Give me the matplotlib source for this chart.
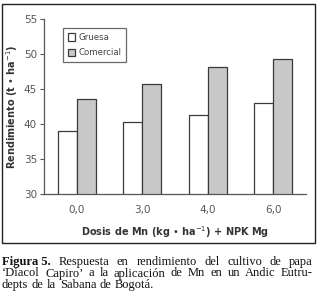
import matplotlib.pyplot as plt
import numpy as np
from matplotlib.patches import Rectangle

# data
dosis = ['0,0', '3,0', '4,0', '6,0']
gruesa = [39.0, 40.3, 41.3, 43.0]
comercial = [43.6, 45.8, 48.2, 49.3]

W, H = 325, 303
fig = plt.figure(figsize=(W / 100, H / 100), dpi=100)
fig.patch.set_facecolor('white')

# frame around the chart
fig.add_artist(Rectangle((2 / W, 1 - 243 / H), 313 / W, 239 / H, transform=fig.transFigure,
                         fill=False, edgecolor='#222222', linewidth=1.0))

ax = fig.add_axes([44 / W, 1 - 194.3 / H, 262 / W, 175 / H])
x = np.arange(len(dosis))
bw = 0.29
edge = '#3a3a3a'
ax.bar(x - bw / 2, gruesa, bw, color='white', edgecolor=edge, linewidth=0.9, label='Gruesa')
ax.bar(x + bw / 2, comercial, bw, color='#c8c8c8', edgecolor=edge, linewidth=0.9, label='Comercial')

ax.set_xlim(-0.5, 3.5)
ax.set_ylim(30, 55)
ax.set_yticks([30, 35, 40, 45, 50, 55])
ax.set_xticks(x)
ax.set_xticklabels(dosis)
for s in ['top', 'right']:
    ax.spines[s].set_visible(False)
for s in ['left', 'bottom']:
    ax.spines[s].set_color('#555555')
    ax.spines[s].set_linewidth(0.9)
ax.tick_params(axis='y', direction='out', length=3, width=0.8, color='#555555',
               labelsize=7.5, labelcolor='#555555', pad=2)
ax.tick_params(axis='x', length=0, labelsize=7.5, labelcolor='#555555', pad=8)

ax.set_ylabel('Rendimiento (t • ha$^{-1}$)', fontsize=7, fontweight='bold', color='#333333', labelpad=3)
ax.set_xlabel('Dosis de Mn (kg • ha$^{-1}$) + NPK Mg', fontsize=7, fontweight='bold', color='#333333', labelpad=6)

leg = ax.legend(loc='upper left', bbox_to_anchor=(19 / 262, 1 - 9 / 175), fontsize=6.2,
                frameon=True, fancybox=False, handlelength=0.9, handleheight=0.9,
                handletextpad=0.3, borderpad=0.55, labelspacing=0.7, borderaxespad=0)
leg.get_frame().set_edgecolor('#444444')
leg.get_frame().set_linewidth(0.9)
for t in leg.get_texts():
    t.set_color('#444444')

# caption, justified word by word
renderer = fig.canvas.get_renderer()
cap_font = dict(family='Liberation Serif', fontsize=9, color='#111111')
lines = [
    ([('Figura 5.', 'bold')] + [(w, 'normal') for w in 'Respuesta en rendimiento del cultivo de papa'.split()], True),
    ([(w, 'normal') for w in '‘Diacol Capiro’ a la aplicación de Mn en un Andic Eutru-'.split()], True),
    ([(w, 'normal') for w in 'depts de la Sabana de Bogotá.'.split()], False),
]
left, right = 2, 313
ys = [265, 276.5, 288]
for (words, justify), yp in zip(lines, ys):
    texts = [fig.text(0, 1 - yp / H, w, fontweight=fw, va='baseline', ha='left', **cap_font) for w, fw in words]
    widths = [t.get_window_extent(renderer).width for t in texts]
    if justify:
        gap = (right - left - sum(widths)) / (len(texts) - 1)
    else:
        gap = 3.5
    xp = left
    for t, w in zip(texts, widths):
        t.set_x(xp / W)
        xp += w + gap

fig.savefig('out.png', dpi=100)
